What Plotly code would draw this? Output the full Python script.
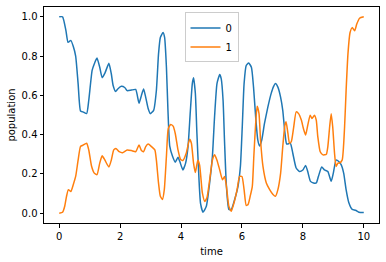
import plotly.graph_objects as go

# series 0
t0 = [0, 0.11, 0.22, 0.29, 0.38, 0.46, 0.54, 0.62, 0.70, 0.78, 0.90, 0.97, 1.08, 1.15, 1.24, 1.33,
      1.41, 1.50, 1.63, 1.71, 1.77, 1.85, 1.93, 2.04, 2.15, 2.23, 2.37, 2.51, 2.62, 2.70, 2.77, 2.84,
      2.92, 2.99, 3.10, 3.19, 3.26, 3.32, 3.41, 3.46, 3.52, 3.57, 3.63, 3.72, 3.81, 3.90, 3.96, 4.06,
      4.15, 4.23, 4.30, 4.37, 4.41, 4.47, 4.52, 4.59, 4.64, 4.72, 4.83, 4.94, 5.03, 5.10, 5.18, 5.27,
      5.32, 5.38, 5.43, 5.49, 5.57, 5.65, 5.76, 5.87, 5.95, 6.01, 6.07, 6.14, 6.22, 6.31, 6.38, 6.45,
      6.52, 6.58, 6.65, 6.74, 6.85, 6.96, 7.04, 7.10, 7.18, 7.27, 7.34, 7.41, 7.47, 7.59, 7.67, 7.78,
      7.89, 8.00, 8.09, 8.16, 8.25, 8.35, 8.44, 8.51, 8.62, 8.71, 8.82, 8.93, 9.00, 9.09, 9.18, 9.26,
      9.34, 9.42, 9.51, 9.62, 9.73, 9.84, 10.0]
p0 = [1.0, 1.0, 0.93, 0.87, 0.88, 0.85, 0.80, 0.66, 0.52, 0.516, 0.507, 0.575, 0.727, 0.76, 0.79, 0.743,
      0.69, 0.713, 0.763, 0.71, 0.65, 0.62, 0.634, 0.646, 0.64, 0.624, 0.627, 0.63, 0.56, 0.60, 0.632, 0.59,
      0.533, 0.507, 0.524, 0.625, 0.81, 0.895, 0.92, 0.895, 0.743, 0.524, 0.34, 0.29, 0.26, 0.285, 0.263, 0.22,
      0.255, 0.34, 0.507, 0.66, 0.69, 0.61, 0.41, 0.17, 0.05, 0.005, 0.035, 0.155, 0.29, 0.49, 0.66, 0.706,
      0.684, 0.575, 0.356, 0.137, 0.019, 0.019, 0.07, 0.137, 0.24, 0.44, 0.66, 0.752, 0.765, 0.743, 0.642, 0.49,
      0.373, 0.342, 0.373, 0.457, 0.54, 0.61, 0.646, 0.66, 0.642, 0.59, 0.524, 0.41, 0.352, 0.356, 0.305, 0.23,
      0.212, 0.22, 0.243, 0.212, 0.162, 0.154, 0.154, 0.187, 0.235, 0.22, 0.212, 0.162, 0.204, 0.27, 0.263, 0.246,
      0.204, 0.12, 0.053, 0.019, 0.015, 0.005, 0.003]

# series 1
t1 = [0, 0.11, 0.18, 0.24, 0.30, 0.38, 0.46, 0.54, 0.62, 0.70, 0.78, 0.90, 0.97, 1.06, 1.15, 1.24,
      1.33, 1.41, 1.50, 1.63, 1.71, 1.79, 1.86, 1.97, 2.08, 2.23, 2.37, 2.51, 2.62, 2.70, 2.77, 2.84,
      2.92, 3.03, 3.14, 3.19, 3.26, 3.32, 3.39, 3.45, 3.52, 3.58, 3.66, 3.74, 3.81, 3.90, 3.98, 4.06,
      4.17, 4.28, 4.34, 4.41, 4.47, 4.55, 4.61, 4.70, 4.78, 4.85, 4.94, 5.03, 5.10, 5.18, 5.27, 5.36,
      5.43, 5.49, 5.57, 5.65, 5.74, 5.84, 5.92, 6.00, 6.07, 6.14, 6.20, 6.27, 6.34, 6.39, 6.45, 6.50,
      6.56, 6.61, 6.69, 6.80, 6.91, 7.02, 7.10, 7.18, 7.27, 7.34, 7.41, 7.45, 7.51, 7.56, 7.62, 7.70,
      7.78, 7.86, 7.95, 8.02, 8.09, 8.16, 8.24, 8.30, 8.38, 8.44, 8.49, 8.57, 8.66, 8.77, 8.82, 8.88,
      8.93, 8.98, 9.04, 9.09, 9.15, 9.20, 9.29, 9.37, 9.42, 9.48, 9.55, 9.62, 9.70, 9.77, 9.86, 10.0]
p1 = [0.0, 0.005, 0.035, 0.086, 0.12, 0.11, 0.145, 0.187, 0.27, 0.34, 0.346, 0.356, 0.322, 0.24, 0.204, 0.196,
      0.255, 0.292, 0.27, 0.235, 0.27, 0.322, 0.33, 0.313, 0.308, 0.322, 0.319, 0.313, 0.347, 0.319, 0.313, 0.339,
      0.352, 0.339, 0.322, 0.27, 0.154, 0.086, 0.07, 0.12, 0.29, 0.43, 0.452, 0.443, 0.406, 0.322, 0.275, 0.268,
      0.305, 0.376, 0.356, 0.255, 0.207, 0.27, 0.245, 0.103, 0.06, 0.078, 0.17, 0.27, 0.297, 0.27, 0.22, 0.17,
      0.187, 0.137, 0.035, 0.01, 0.053, 0.12, 0.187, 0.187, 0.12, 0.039, 0.044, 0.086, 0.137, 0.29, 0.457, 0.545,
      0.507, 0.373, 0.238, 0.154, 0.12, 0.095, 0.086, 0.12, 0.204, 0.339, 0.448, 0.465, 0.406, 0.356, 0.364, 0.44,
      0.516, 0.507, 0.474, 0.43, 0.398, 0.448, 0.499, 0.482, 0.499, 0.474, 0.39, 0.313, 0.297, 0.30, 0.339, 0.44,
      0.507, 0.44, 0.305, 0.238, 0.255, 0.255, 0.27, 0.44, 0.625, 0.81, 0.92, 0.945, 0.929, 0.963, 0.993, 1.0]

x_ticks = [0, 2, 4, 6, 8, 10]
y_ticks = [0.0, 0.2, 0.4, 0.6, 0.8, 1.0]

fig = go.Figure()
fig.add_trace(go.Scatter(x=t0, y=p0, mode="lines", name="0",
                         line=dict(color="#1f77b4", width=1.5, shape="spline", smoothing=0.5)))
fig.add_trace(go.Scatter(x=t1, y=p1, mode="lines", name="1",
                         line=dict(color="#ff7f0e", width=1.5, shape="spline", smoothing=0.5)))

axis_common = dict(showgrid=False, zeroline=False, showline=True, mirror=True,
                   linecolor="black", linewidth=1, ticks="outside", ticklen=3.5,
                   tickcolor="black", tickwidth=1,
                   tickfont=dict(family="DejaVu Sans", size=10, color="black"))

fig.update_layout(
    width=386, height=262,
    margin=dict(l=44, r=7, t=6, b=38),
    paper_bgcolor="white", plot_bgcolor="white",
    font=dict(family="DejaVu Sans", size=10, color="black"),
    xaxis=dict(range=[-0.5, 10.5], tickvals=x_ticks,
               title=dict(text="time", font=dict(size=10), standoff=7), **axis_common),
    yaxis=dict(range=[-0.05, 1.05], tickvals=y_ticks, tickformat=".1f",
               title=dict(text="population", font=dict(size=10), standoff=4), **axis_common),
    legend=dict(x=0.5, y=0.975, xanchor="center", yanchor="top",
                bgcolor="rgba(255,255,255,0.8)", bordercolor="#cccccc", borderwidth=1,
                font=dict(size=10), tracegroupgap=0, itemwidth=30),
    showlegend=True,
)

fig.write_html("out.html")
